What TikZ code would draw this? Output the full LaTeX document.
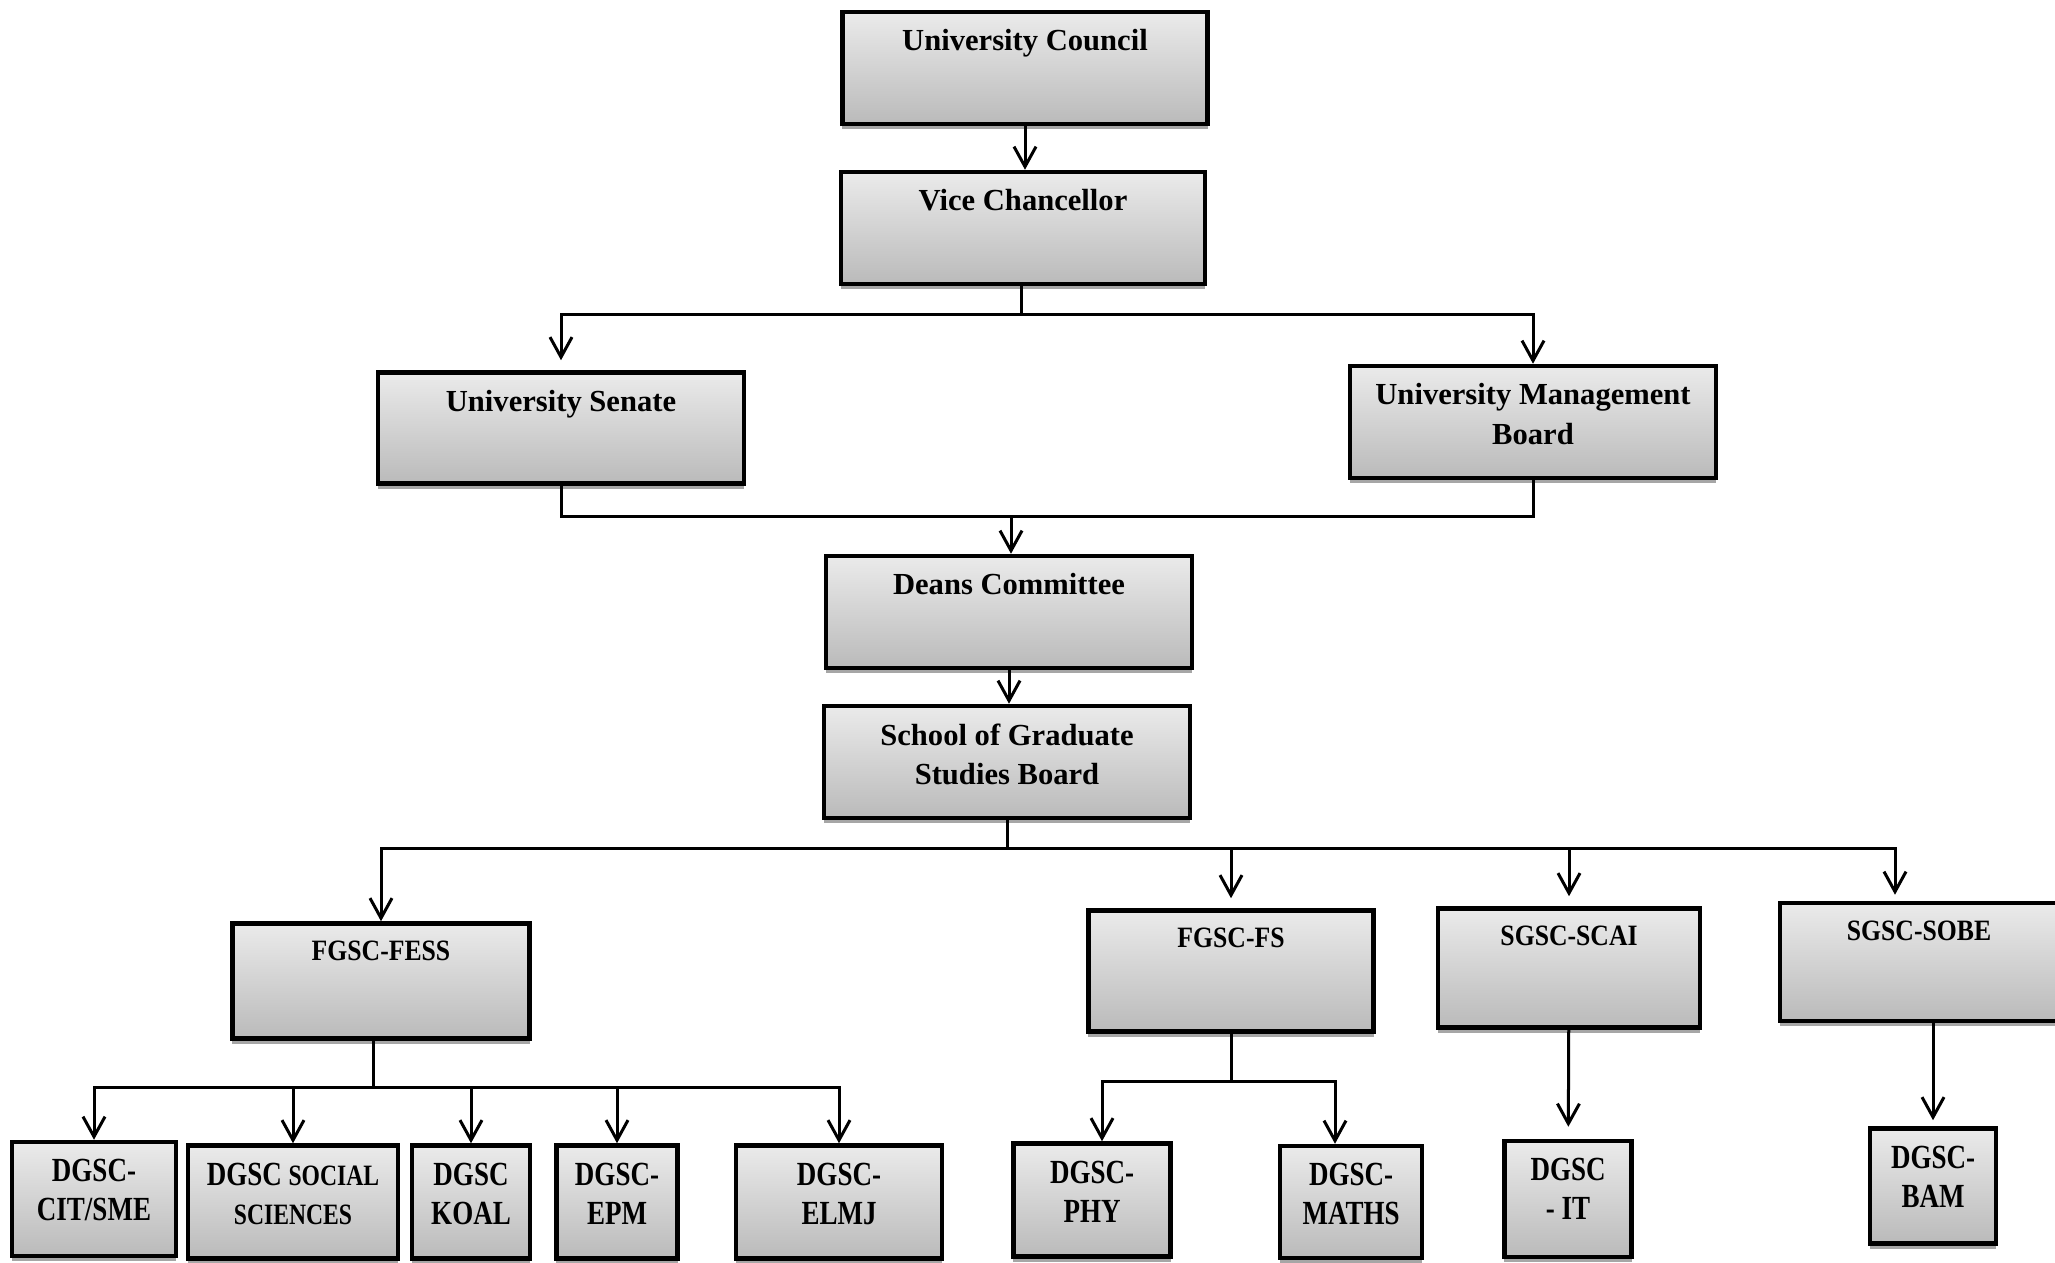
\documentclass[tikz,border=0pt]{standalone}
\usepackage{fontspec}
\setmainfont{Liberation Serif}
\newfontfamily\midfont{Liberation Serif}[FakeStretch=0.87]
\newfontfamily\lowfont{Liberation Serif}[FakeStretch=0.8]
\usetikzlibrary{arrows.meta, shadows}

\newcommand\toptext{\fontsize{8.7}{11.3}\selectfont\bfseries}
\newcommand\midtext{\midfont\fontsize{8.4}{10.4}\selectfont\bfseries}
\newcommand\lowtext{\lowfont\fontsize{9.6}{11.0}\selectfont\bfseries}
\newcommand\lowsmall{\fontsize{8.4}{11.0}\selectfont}

\begin{document}
\begin{tikzpicture}[x=0.01cm, y=-0.01cm,
    office/.style={draw, line width=0.045cm, inner sep=0pt,
        top color=black!8, bottom color=black!27,
        drop shadow={shadow xshift=0cm, shadow yshift=-0.05cm, fill=black!35, opacity=1}},
    caption/.style={anchor=north, inner sep=0pt, align=center, yshift=-0.19cm},
    toplabel/.style={label={[caption, font=\toptext]north:#1}},
    midlabel/.style={label={[caption, font=\midtext]north:#1}},
    lowlabel/.style={label={[caption, font=\lowtext]north:#1}},
    link/.style={line width=0.03cm},
    feed/.style={link, -{Straight Barb[length=0.2cm, width=0.22cm]}}]
        \useasboundingbox (0,0) rectangle (2055,1262);

        % governing bodies
        \node[office, minimum width=3.65cm, minimum height=1.12cm, toplabel={University Council}] (council) at (1025,68) {};
        \node[office, minimum width=3.64cm, minimum height=1.12cm, toplabel={Vice Chancellor}] (vc) at (1023,228) {};
        \node[office, minimum width=3.66cm, minimum height=1.11cm, toplabel={University Senate}] (senate) at (561,428) {};
        \node[office, minimum width=3.66cm, minimum height=1.12cm, toplabel={University Management\\Board}] (umb) at (1533,422) {};
        \node[office, minimum width=3.66cm, minimum height=1.12cm, toplabel={Deans Committee}] (deans) at (1009,612) {};
        \node[office, minimum width=3.66cm, minimum height=1.12cm, toplabel={School of Graduate\\Studies Board}] (sgsb) at (1007,762) {};

        % faculty and school committees
        \node[office, minimum width=2.97cm, minimum height=1.15cm, midlabel={FGSC-FESS}] (fess) at (381,981) {};
        \node[office, minimum width=2.85cm, minimum height=1.21cm, midlabel={FGSC-FS}] (fs) at (1231,971) {};
        \node[office, minimum width=2.62cm, minimum height=1.19cm, midlabel={SGSC-SCAI}] (scai) at (1569,968) {};
        \node[office, minimum width=2.78cm, minimum height=1.18cm, midlabel={SGSC-SOBE}] (sobe) at (1919,962) {};

        % departmental committees
        \node[office, minimum width=1.64cm, minimum height=1.14cm, lowlabel={DGSC-\\CIT/SME}] (cit) at (94,1199) {};
        \node[office, minimum width=2.10cm, minimum height=1.13cm, lowlabel={DGSC {\lowsmall SOCIAL}\\{\lowsmall SCIENCES}}] (social) at (293,1202) {};
        \node[office, minimum width=1.18cm, minimum height=1.13cm, lowlabel={DGSC\\KOAL}] (koal) at (471,1202) {};
        \node[office, minimum width=1.21cm, minimum height=1.13cm, lowlabel={DGSC-\\EPM}] (epm) at (617,1202) {};
        \node[office, minimum width=2.06cm, minimum height=1.13cm, lowlabel={DGSC-\\ELMJ}] (elmj) at (839,1202) {};
        \node[office, minimum width=1.57cm, minimum height=1.13cm, lowlabel={DGSC-\\PHY}] (phy) at (1092,1200) {};
        \node[office, minimum width=1.42cm, minimum height=1.12cm, lowlabel={DGSC-\\MATHS}] (maths) at (1351,1202) {};
        \node[office, minimum width=1.27cm, minimum height=1.16cm, lowlabel={DGSC\\- IT}] (it) at (1568,1199) {};
        \node[office, minimum width=1.26cm, minimum height=1.15cm, lowlabel={DGSC-\\BAM}] (bam) at (1933,1186) {};

        \coordinate (split) at (1021,314);
        \coordinate (merge) at (1011,516);
        \coordinate (fan) at (1007,848);
        \coordinate (fessfan) at (373,1087);
        \coordinate (fsfan) at (1231,1081);

        \draw[feed] (council.south) -- (council.south |- vc.north);
        \draw[link] (vc.south -| split) -- (split);
        \draw[feed, shorten >=0.1cm] (split) -| (senate);
        \draw[feed] (split) -| (umb);
        \draw[link] (senate) |- (merge) -| (umb);
        \draw[feed] (merge) -- (merge |- deans.north);
        \draw[feed] (deans.south) -- (deans.south |- sgsb.north);

        \draw[link] (sgsb) -- (fan);
        \draw[feed] (fan) -| (fess);
        \draw[feed, shorten >=0.1cm] (fan) -| (fs);
        \draw[feed, shorten >=0.1cm] (fan) -| (scai);
        \draw[feed, shorten >=0.06cm] (fan) -| ([xshift=-0.24cm]sobe.north);

        \draw[link] (fessfan |- fess.south) -- (fessfan);
        \foreach \dept in {cit, social, koal, epm, elmj}
            \draw[feed] (fessfan) -| (\dept);

        \draw[link] (fs) -- (fsfan);
        \draw[feed] (fsfan) -| ([xshift=0.1cm]phy.north);
        \draw[feed] (fsfan) -| ([xshift=-0.16cm]maths.north);

        \draw[feed, shorten >=0.12cm] (scai) -- (it);
        \draw[feed, shorten >=0.06cm] (sobe.south -| bam) -- (bam);
    \end{tikzpicture}
\end{document}
